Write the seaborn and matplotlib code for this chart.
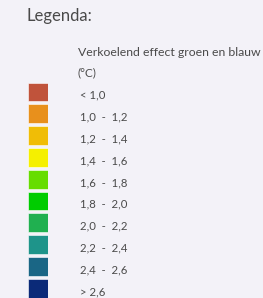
import pandas as pd
import matplotlib
matplotlib.use('Agg')
import matplotlib.pyplot as plt
import seaborn as sns

# Legend classes (cooling effect in degrees C) and their colours
labels = ['< 1,0', '1,0 - 1,2', '1,2 - 1,4', '1,4 - 1,6', '1,6 - 1,8',
          '1,8 - 2,0', '2,0 - 2,2', '2,2 - 2,4', '2,4 - 2,6', '> 2,6']
colors = ['#c0533b', '#e8901c', '#f0bd06', '#f5f000', '#66dd00',
          '#00cc00', '#20b050', '#1e948a', '#1a6685', '#0b2a78']
swatch = [1] * len(labels)

bg = '#f3f2f8'
txt = '#4a4a4a'

sns.set_theme(style='white')
plt.rcParams['font.family'] = ['Lato', 'DejaVu Sans']

W, H = 263, 298
fig = plt.figure(figsize=(W / 100, H / 100), dpi=100)
fig.patch.set_facecolor(bg)

# axes holds the colour swatches, one category per row
step = 21.8
top = 92 - step / 2
ax = fig.add_axes([28 / W, 1 - (top + step * len(labels)) / H, 20 / W, step * len(labels) / H])
ax.set_facecolor(bg)

df = pd.DataFrame({'label': labels, 'value': swatch})
sns.barplot(data=df, y='label', x='value', hue='label', palette=colors,
            orient='h', width=0.87, legend=False, ax=ax, saturation=1,
            edgecolor='#ffffff', linewidth=0.4)
ax.set_xlim(0, 1)
ax.set_xlabel('')
ax.set_ylabel('')
ax.set_xticks([])
ax.set_yticks([])
for s in ax.spines.values():
    s.set_visible(False)

for i, lab in enumerate(labels):
    ax.text(2.6, i + 0.15, lab.replace(' - ', '  -  '), ha='left', va='center',
            fontsize=8.2, color=txt, clip_on=False)

fig.text(27 / W, 1 - 16 / H, 'Legenda:', ha='left', va='center', fontsize=12, color=txt)
fig.text(78 / W, 1 - 53 / H, 'Verkoelend effect groen en blauw', ha='left', va='center',
         fontsize=8.8, color=txt)
fig.text(78 / W, 1 - 73 / H, '(°C)', ha='left', va='center', fontsize=8.5, color=txt)

fig.savefig('out.png', dpi=100, facecolor=bg)
